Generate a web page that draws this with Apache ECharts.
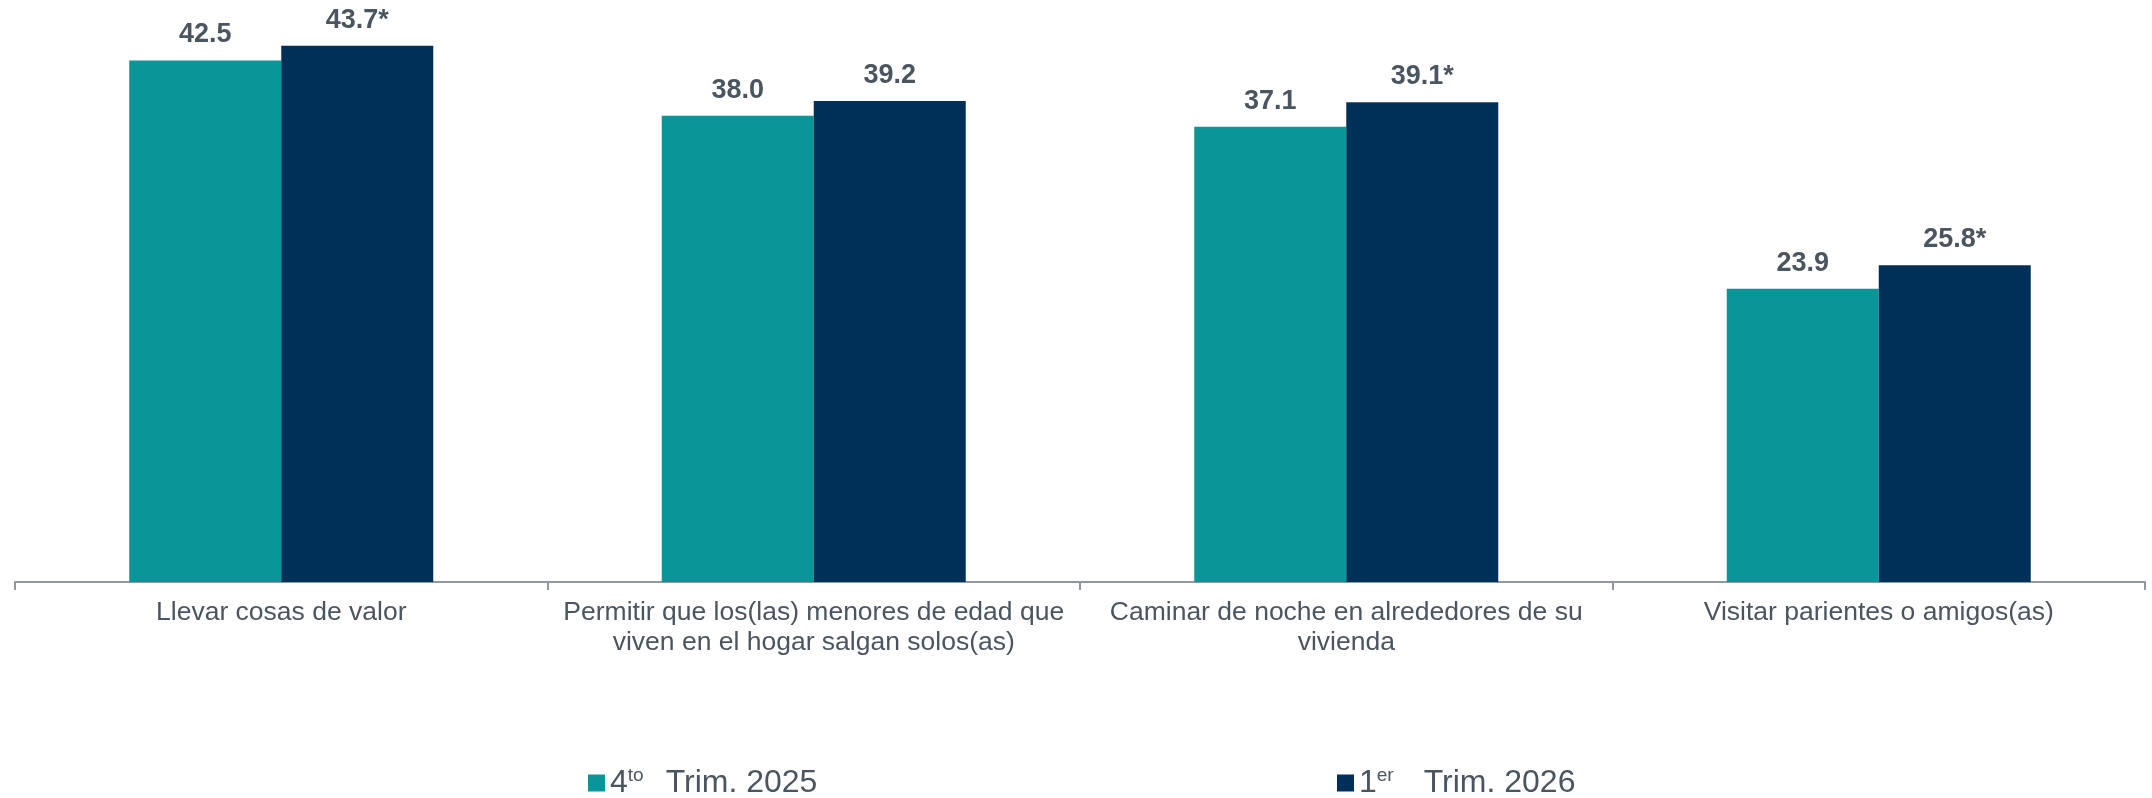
<!DOCTYPE html>
<html>
<head>
<meta charset="utf-8">
<script src="https://cdn.jsdelivr.net/npm/echarts@6/dist/echarts.min.js"></script>
<style>
	html, body { margin: 0; padding: 0; background: #fff; }
	#chart-one { width: 2152px; height: 798px; }
</style>
</head>
<body>
<div id="chart-one"></div>
<script>
var categories = [
	'Llevar cosas de valor',
	'Permitir que los(las) menores de edad que\nviven en el hogar salgan solos(as)',
	'Caminar de noche en alrededores de su\nvivienda',
	'Visitar parientes o amigos(as)'
];
var seriesNames = ['4to Trim. 2025', '1er Trim. 2026'];
var trim4_2025 = [42.5, 38.0, 37.1, 23.9];
var trim1_2026 = [43.7, 39.2, 39.1, 25.8];
// cambio estadisticamente significativo (lleva asterisco)
var signif2026 = [true, false, true, true];

var FONT = 'Arial, "Liberation Sans", sans-serif';
var TXT = '#4b5560';

var BarChart = function(){
	this.mychart = echarts.init(document.getElementById('chart-one'));

	this.initChart = function(){
		var legendFmt = function(name){
			var m = name.match(/^(\d)(\S+)\s(.*)$/);
			return '{n|' + m[1] + '}{s|' + m[2] + '}{g|' + (m[2] === 'er' ? '' : '') + '}{n|' + m[3] + '}';
		};
		var legendText = {
			'fontFamily': FONT,
			'color': TXT,
			'rich': {
				'n': { 'fontSize': 32, 'fontFamily': FONT, 'color': TXT, 'lineHeight': 34 },
				's': { 'fontSize': 19, 'fontFamily': FONT, 'color': TXT, 'verticalAlign': 'top', 'lineHeight': 34, 'padding': [0, 0, 12, 0] },
				'g': { 'width': 22, 'lineHeight': 34 }
			}
		};
		var legendText2 = JSON.parse(JSON.stringify(legendText));
		legendText2.rich.g.width = 30;
		var labelOpt = function(flags){
			return {
				'show': true,
				'position': 'top',
				'distance': 12,
				'fontFamily': FONT,
				'fontSize': 27,
				'fontWeight': 'bold',
				'color': TXT,
				'formatter': function(p){
					return p.value.toFixed(1) + (flags && flags[p.dataIndex] ? '*' : '');
				}
			};
		};

		var option = {
			'animation': false,
			'grid': { 'left': 15, 'right': 7, 'top': 42, 'bottom': 216 },
			'legend': [{
				'data': [seriesNames[0]],
				'left': 588, 'top': 766, 'padding': 0,
				'itemWidth': 17, 'itemHeight': 17, 'icon': 'rect',
				'formatter': legendFmt, 'textStyle': legendText
			}, {
				'data': [seriesNames[1]],
				'left': 1337, 'top': 766, 'padding': 0,
				'itemWidth': 17, 'itemHeight': 17, 'icon': 'rect',
				'formatter': legendFmt, 'textStyle': legendText2
			}],
			'xAxis': {
				'type': 'category',
				'data': categories,
				'axisLine': { 'lineStyle': { 'color': '#8e99a3', 'width': 2 } },
				'axisTick': { 'show': true, 'length': 8, 'lineStyle': { 'color': '#8e99a3', 'width': 2 } },
				'axisLabel': {
					'interval': 0,
					'margin': 16,
					'fontFamily': FONT,
					'fontSize': 26.5,
					'lineHeight': 30,
					'color': TXT
				}
			},
			'yAxis': {
				'type': 'value',
				'min': 0,
				'max': 44,
				'show': false,
				'splitLine': { 'show': false }
			},
			'series': [{
				'name': seriesNames[0],
				'type': 'bar',
				'data': trim4_2025,
				'barWidth': 152,
				'barGap': '0%',
				'itemStyle': { 'color': '#0a9598' },
				'label': labelOpt(null)
			}, {
				'name': seriesNames[1],
				'type': 'bar',
				'data': trim1_2026,
				'barWidth': 152,
				'barGap': '0%',
				'itemStyle': { 'color': '#003057' },
				'label': labelOpt(signif2026)
			}]
		};

		this.mychart.setOption(option);
	};
};

var chart = new BarChart();
chart.initChart();
</script>
</body>
</html>
